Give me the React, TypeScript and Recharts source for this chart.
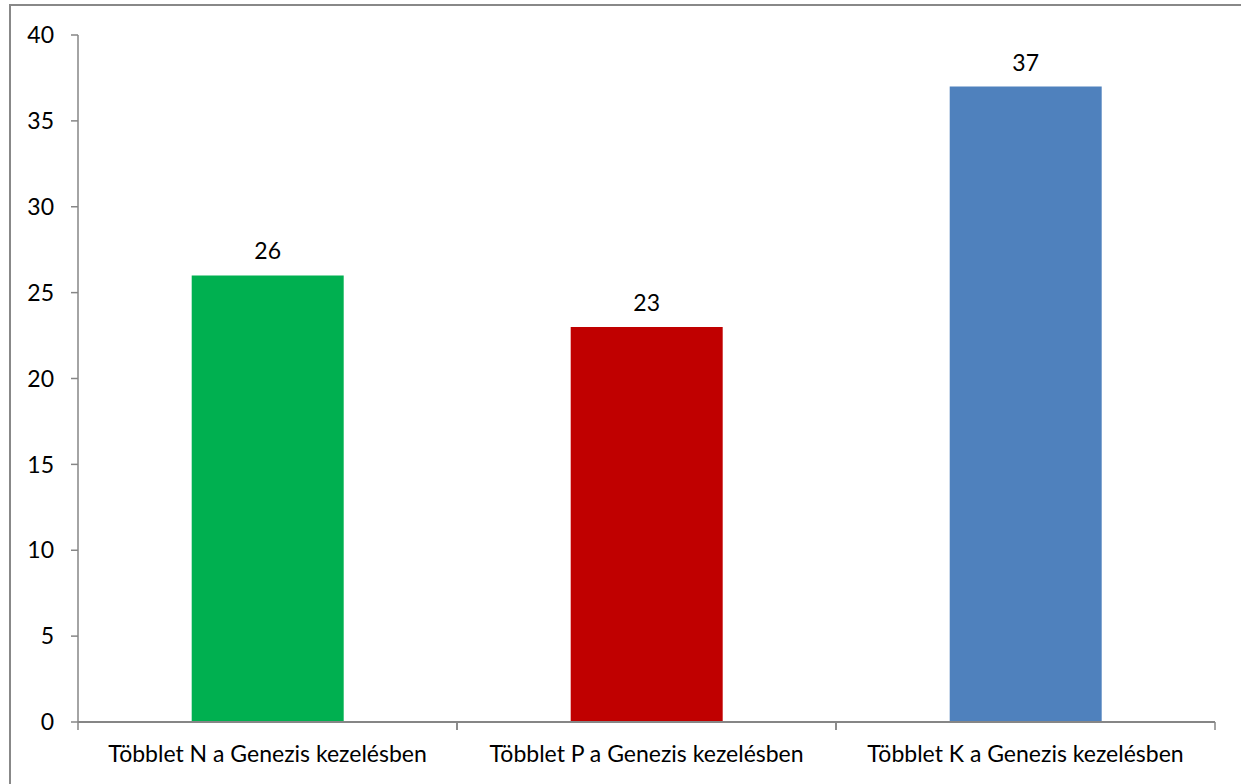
import { BarChart, Bar, XAxis, YAxis, Cell, LabelList } from 'recharts';

const categories = ['Többlet N a Genezis kezelésben', 'Többlet P a Genezis kezelésben', 'Többlet K a Genezis kezelésben'];
const values = [26, 23, 37];
const barColors = ['#00B050', '#C00000', '#4F81BD'];
const yTicks = [0, 5, 10, 15, 20, 25, 30, 35, 40];

const data = categories.map((name, i) => ({ name, value: values[i] }));

const W = 1241;
const H = 784;
const margin = { top: 35, right: 26, bottom: 0, left: 0 };
const yAxisWidth = 78;
const font = 'Lato, "Open Sans", sans-serif';
const axisColor = '#868686';
const fontSize = 23;

// half a category band, so the x tick marks sit between the categories
const halfBand = (W - margin.left - margin.right - yAxisWidth) / categories.length / 2;

function CategoryTick(props: any) {
  const { x, y, payload } = props;
  return (
    <g>
      <line x1={x - halfBand} x2={x - halfBand} y1={y - 8} y2={y} stroke={axisColor} strokeWidth={1.5} />
      <line x1={x + halfBand} x2={x + halfBand} y1={y - 8} y2={y} stroke={axisColor} strokeWidth={1.5} />
      <text x={x} y={y + 32} textAnchor="middle" fill="#000" fontSize={fontSize} fontFamily={font}>
        {payload.value}
      </text>
    </g>
  );
}

export default function App() {
  return (
    <div style={{ position: 'absolute', left: 0, top: 0, width: W, height: H, overflow: 'hidden', background: '#fff' }}>
      <div
        style={{
          position: 'absolute',
          left: 9,
          top: 4,
          width: W + 40,
          height: H + 40,
          border: '2px solid #888888',
          boxSizing: 'border-box',
        }}
      />
      <div style={{ position: 'absolute', left: 0, top: 0 }}>
        <BarChart width={W} height={H} data={data} margin={margin} barCategoryGap="30%">
          <XAxis
            dataKey="name"
            axisLine={{ stroke: axisColor, strokeWidth: 2 }}
            tickLine={false}
            tick={<CategoryTick />}
            height={62}
            interval={0}
          />
          <YAxis
            width={yAxisWidth}
            domain={[0, 40]}
            ticks={yTicks}
            interval={0}
            axisLine={{ stroke: axisColor, strokeWidth: 1.5 }}
            tickLine={{ stroke: axisColor, strokeWidth: 1.5 }}
            tickSize={7}
            tickMargin={17}
            tick={{ fill: '#000', fontSize, fontFamily: font }}
          />
          <Bar dataKey="value" isAnimationActive={false}>
            {data.map((d, i) => (
              <Cell key={d.name} fill={barColors[i]} />
            ))}
            <LabelList dataKey="value" position="top" offset={16} fill="#000" fontSize={fontSize} fontFamily={font} />
          </Bar>
        </BarChart>
      </div>
    </div>
  );
}
